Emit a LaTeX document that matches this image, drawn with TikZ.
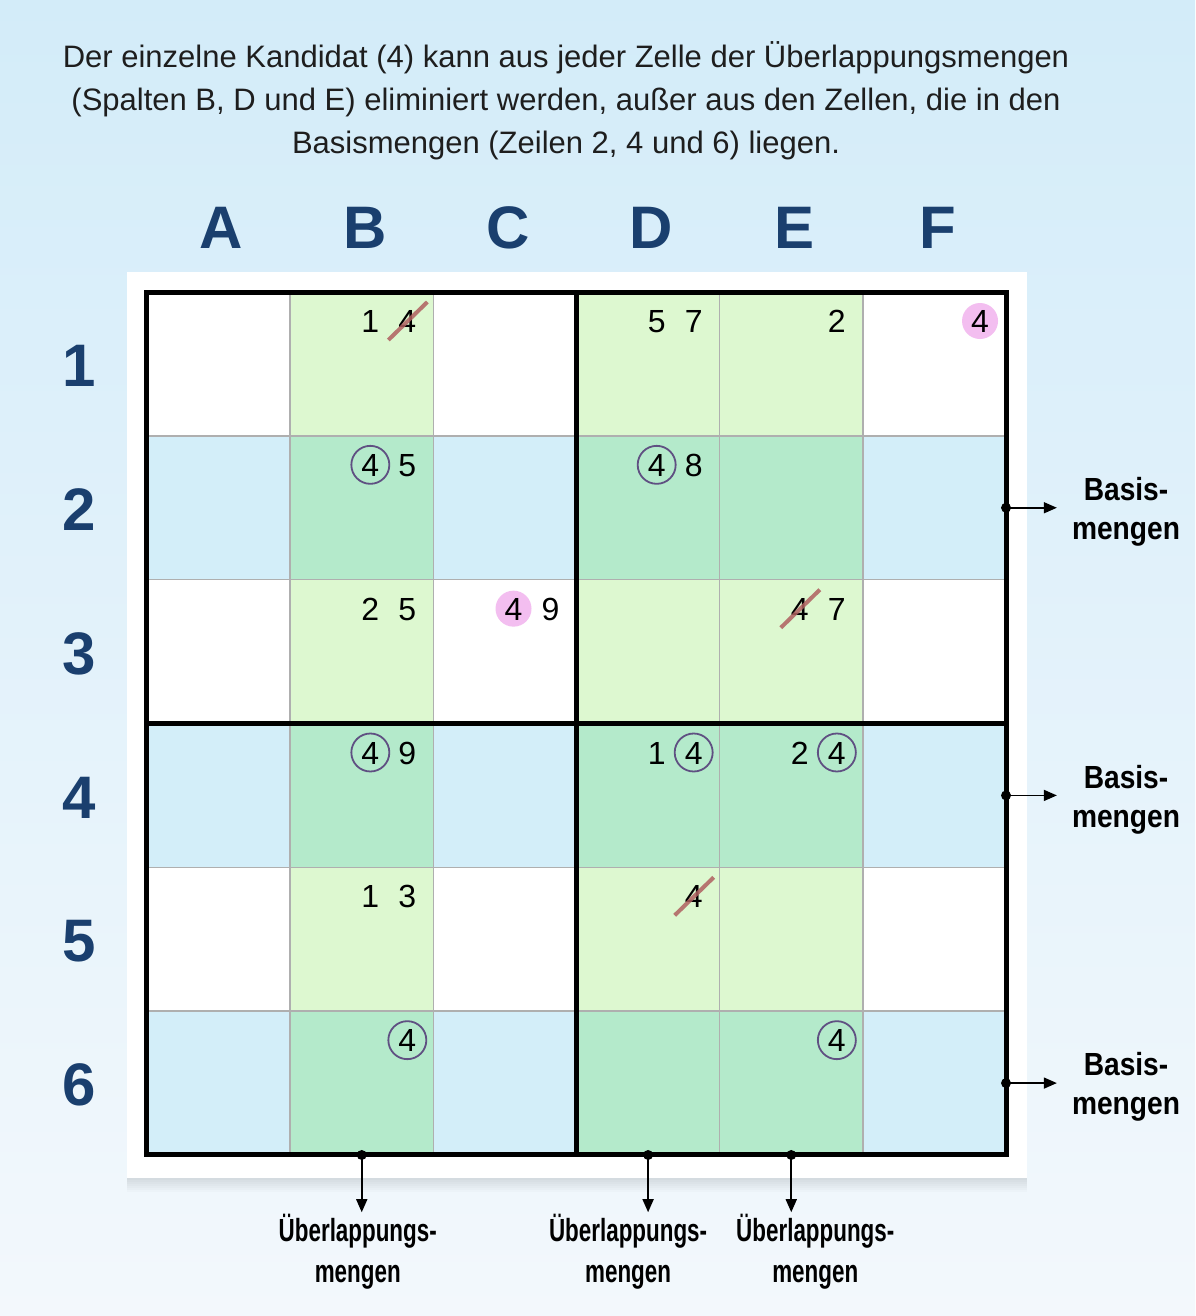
\documentclass[tikz,border=0pt]{standalone}
\usepackage{fontspec}
\setmainfont{Liberation Sans}
\newfontfamily\narrowbold{Liberation Sans Bold}[FakeStretch=0.70]
\newfontfamily\widebold{Liberation Sans Bold}[FakeStretch=0.88]
\usetikzlibrary{calc,arrows.meta}

\definecolor{bgtop}{RGB}{211,236,249}
\definecolor{bgbottom}{RGB}{243,248,252}
\definecolor{cell0}{RGB}{255,255,255}
\definecolor{cell1}{RGB}{211,238,249}
\definecolor{cell2}{RGB}{221,248,208}
\definecolor{cell3}{RGB}{180,234,203}
\definecolor{gridgrey}{RGB}{175,175,175}
\definecolor{headblue}{RGB}{26,63,110}
\definecolor{ringpurple}{RGB}{95,80,130}
\definecolor{hitpink}{RGB}{243,190,240}
\definecolor{strikered}{RGB}{176,96,96}
\definecolor{titlegrey}{RGB}{30,30,30}

\tikzset{
  cell/.style={draw=gridgrey, line width=1.5pt, minimum width=143.17pt, minimum height=143.83pt, inner sep=0pt, outer sep=0pt},
  digit/.style={circle, font=\fontsize{32}{32}\selectfont, text height=23pt, text depth=0pt, inner sep=0pt, minimum size=38pt},
  plain/.style={digit},
  struck/.style={digit},
  ringed/.style={digit, draw=ringpurple, line width=1.8pt},
  single/.style={digit, fill=hitpink, minimum size=36pt},
  strike/.style={strikered, line width=4pt, opacity=0.85},
  header/.style={font=\fontsize{60}{60}\selectfont\bfseries, text=headblue},
  tag/.style={align=center, inner sep=0pt},
  pointer/.style={line width=1.6pt, -{Triangle[length=13pt,width=11pt]}},
}

\begin{document}
\begin{tikzpicture}[x=1pt,y=-1pt]
    \useasboundingbox (0,0) rectangle (1195,1316);
    \shade[top color=bgtop, bottom color=bgbottom] (0,0) rectangle (1195,1316);

    \node[align=center, text=titlegrey, font=\fontsize{31}{43}\selectfont] (title) at (566,101)
        {Der einzelne Kandidat (4) kann aus jeder Zelle der Überlappungsmengen\\
         (Spalten B, D und E) eliminiert werden, außer aus den Zellen, die in den\\
         Basismengen (Zeilen 2, 4 und 6) liegen.};

    % white panel with a soft shadow
    \foreach \k in {2,4,...,14}
        \fill[black, opacity=0.015] (127,272+\k) rectangle (1027,1178+\k);
    \fill[white] (127,272) rectangle (1027,1178);

    % cells: 0 white, 1 base row, 2 overlap column, 3 both
    \foreach \c/\ov in {0/0,1/1,2/0,3/1,4/1,5/0}
        \foreach \r in {0,...,5} {
            \pgfmathtruncatemacro\k{2*\ov+mod(\r,2)}
            \node[cell, fill=cell\k] (c-\c-\r) at (147+143.17*\c+71.58, 292+143.83*\r+71.92) {};
        }

    % boxes
    \draw[line width=5pt] (c-0-0.north west) rectangle (c-5-5.south east);
    \draw[line width=5pt] (c-3-0.north west) -- (c-3-5.south west);
    \draw[line width=5pt] (c-0-3.north west) -- (c-5-3.north east);

    % column and row headers
    \foreach \l [count=\i from 0] in {A,B,C,D,E,F}
        \node[header] (col-\l) at ($(c-\i-0.north)+(3,-64)$) {\l};
    \foreach \n [count=\i from 0] in {1,...,6}
        \node[header] (row-\n) at ($(c-0-\i.west)+(-68,2)$) {\n};

    % candidates: column/row/slot/digit/style
    \foreach \c/\r/\s/\d/\st in {
        1/0/1/1/plain, 1/0/2/4/struck, 3/0/1/5/plain, 3/0/2/7/plain, 4/0/2/2/plain, 5/0/2/4/single,
        1/1/1/4/ringed, 1/1/2/5/plain, 3/1/1/4/ringed, 3/1/2/8/plain,
        1/2/1/2/plain, 1/2/2/5/plain, 2/2/1/4/single, 2/2/2/9/plain, 4/2/1/4/struck, 4/2/2/7/plain,
        1/3/1/4/ringed, 1/3/2/9/plain, 3/3/1/1/plain, 3/3/2/4/ringed, 4/3/1/2/plain, 4/3/2/4/ringed,
        1/4/1/1/plain, 1/4/2/3/plain, 3/4/2/4/struck,
        1/5/2/4/ringed, 4/5/2/4/ringed} {
        \pgfmathsetmacro\sx{-100+37*\s}
        \node[\st] (k-\c-\r-\s) at ($(c-\c-\r.north east)+(\sx,29)$) {\d};
    }
    \foreach \n in {k-1-0-2, k-4-2-1, k-3-4-2}
        \draw[strike] ($(\n)+(-19,19)$) -- ($(\n)+(20,-19)$);

    % base sets on the right
    \foreach \r in {1,3,5} {
        \node[tag, font=\widebold\fontsize{32}{39}\selectfont] (basis-\r) at ($(c-5-\r.east)+(120,4)$) {Basis-\\mengen};
        \fill (c-5-\r.east) circle (5pt);
        \draw[pointer, shorten >=15pt] (c-5-\r.east) -- (c-5-\r.east -| basis-\r.west);
    }

    % overlap sets below
    \foreach \c/\dx in {1/-4, 3/-20, 4/24} {
        \node[tag, font=\narrowbold\fontsize{32}{41}\selectfont] (ovl-\c) at ($(c-\c-5.south)+(\dx,97)$) {Überlappungs-\\mengen};
        \fill (c-\c-5.south) circle (5pt);
        \draw[pointer, shorten >=2pt] (c-\c-5.south) -- (c-\c-5.south |- ovl-\c.north);
    }
\end{tikzpicture}
\end{document}
